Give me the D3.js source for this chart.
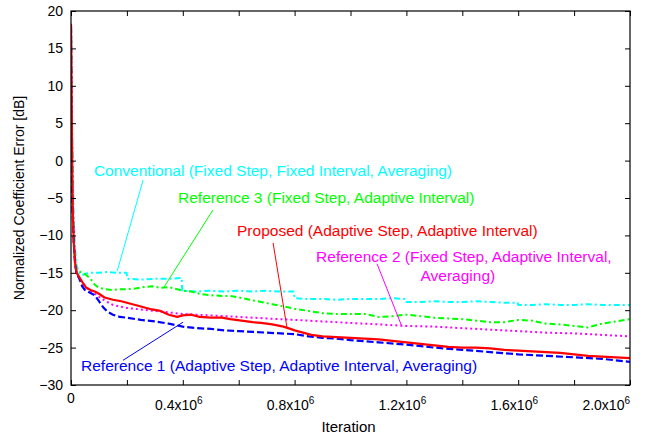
<!DOCTYPE html>
<html>
<head>
<meta charset="utf-8">
<script src="https://cdn.jsdelivr.net/npm/d3@7/dist/d3.min.js"></script>
<style>
  html, body { margin: 0; padding: 0; background: #fff; }
  svg { display: block; font-family: Arial, "Liberation Sans", Helvetica, sans-serif; }
</style>
</head>
<body>
<svg id="chart" width="645" height="442"></svg>
<script>
// ---------------- DATA ----------------
const xTickValues = [0, 200000, 400000, 600000, 800000, 1000000, 1200000, 1400000, 1600000, 1800000, 2000000];
const xLabelValues = [0, 400000, 800000, 1200000, 1600000, 2000000];
const xLabelMantissa = ["0", "0.4x10", "0.8x10", "1.2x10", "1.6x10", "2.0x10"];
const xLabelExponent = ["", "6", "6", "6", "6", "6"];
const yTickValues = [-30, -25, -20, -15, -10, -5, 0, 5, 10, 15, 20];

const seriesNames = [
  "Conventional (Fixed Step, Fixed Interval, Averaging)",
  "Reference 3 (Fixed Step, Adaptive Interval)",
  "Reference 2 (Fixed Step, Adaptive Interval, Averaging)",
  "Reference 1 (Adaptive Step, Adaptive Interval, Averaging)",
  "Proposed (Adaptive Step, Adaptive Interval)"
];

// Conventional (cyan)
const iterConv = [0, 3000, 6000, 10000, 15000, 20000, 30000, 40000, 55000, 70000, 100000, 130000, 160000, 199000,
  201000, 250000, 300000, 350000, 396000, 398000, 450000, 500000, 550000, 600000, 650000, 700000, 750000, 797000,
  800000, 850000, 900000, 950000, 1000000, 1050000, 1100000, 1150000, 1198000, 1200000, 1250000, 1300000, 1350000,
  1400000, 1450000, 1500000, 1550000, 1598000, 1600000, 1650000, 1700000, 1750000, 1800000, 1850000, 1900000, 1950000, 2000000];
const errConv = [18, 8, 0, -8, -12, -14, -15.2, -15.3, -15.1, -15.0, -15.0, -14.9, -15.0, -15.0,
  -15.8, -15.9, -15.8, -15.8, -15.7, -17.4, -17.5, -17.4, -17.5, -17.4, -17.5, -17.4, -17.5, -17.5,
  -18.4, -18.5, -18.5, -18.6, -18.5, -18.5, -18.5, -18.4, -18.5, -18.9, -18.9, -18.8, -18.9,
  -18.9, -18.8, -18.9, -19.0, -19.0, -19.3, -19.3, -19.2, -19.3, -19.3, -19.2, -19.3, -19.3, -19.3];

// Reference 3 (green)
const iterRef3 = [0, 3000, 6000, 10000, 15000, 20000, 30000, 40000, 55000, 70000, 85000, 100000, 120000, 150000, 175000,
  200000, 230000, 260000, 290000, 320000, 350000, 380000, 400000, 430000, 460000, 500000, 540000, 570000, 600000,
  640000, 680000, 720000, 760000, 800000, 850000, 900000, 950000, 1000000, 1050000, 1100000, 1150000, 1200000,
  1250000, 1300000, 1350000, 1400000, 1450000, 1500000, 1550000, 1600000, 1650000, 1700000, 1750000, 1800000,
  1850000, 1900000, 1950000, 2000000];
const errRef3 = [18, 5, -6, -11, -13.8, -14.5, -14.8, -15.0, -15.3, -15.8, -16.6, -17.0, -17.2, -17.3, -17.2,
  -17.2, -17.1, -16.9, -16.8, -17.0, -16.9, -17.2, -17.4, -17.5, -17.8, -18.0, -18.1, -18.1, -18.3,
  -18.6, -18.9, -19.2, -19.5, -19.8, -20.1, -20.4, -20.5, -20.5, -20.5, -20.9, -20.8, -20.6,
  -20.8, -21.0, -21.1, -21.2, -21.4, -21.6, -21.6, -21.3, -21.4, -21.8, -21.9, -22.1,
  -22.3, -21.8, -21.5, -21.2];

// Reference 2 (magenta)
const iterRef2 = [0, 3000, 6000, 10000, 15000, 20000, 30000, 40000, 55000, 70000, 85000, 100000, 120000, 150000,
  200000, 250000, 300000, 350000, 400000, 500000, 600000, 700000, 800000, 900000, 1000000, 1100000, 1200000,
  1300000, 1400000, 1500000, 1600000, 1700000, 1800000, 1900000, 2000000];
const errRef2 = [18, 5, -6, -11, -13.8, -15, -15.8, -16.3, -17.0, -17.4, -17.8, -18.2, -18.7, -19.3,
  -19.7, -19.9, -20.1, -20.3, -20.5, -20.7, -20.9, -21.1, -21.3, -21.5, -21.7, -21.9, -22.1,
  -22.2, -22.4, -22.6, -22.8, -23.0, -23.1, -23.3, -23.5];

// Reference 1 (blue)
const iterRef1 = [0, 2000, 5000, 10000, 15000, 20000, 30000, 40000, 50000, 60000, 70000, 85000, 100000, 115000,
  130000, 150000, 175000, 200000, 250000, 300000, 350000, 400000, 450000, 500000, 550000, 600000, 650000, 700000,
  750000, 800000, 850000, 900000, 950000, 1000000, 1100000, 1200000, 1300000, 1400000, 1500000, 1600000, 1700000,
  1800000, 1900000, 2000000];
const errRef1 = [18, 0, -6, -11, -14, -15, -15.8, -16.8, -17.3, -17.5, -17.7, -18.0, -18.8, -19.6,
  -20.2, -20.6, -20.9, -21.0, -21.3, -21.5, -21.8, -22.2, -22.4, -22.5, -22.7, -22.8, -22.9, -23.0,
  -23.1, -23.2, -23.5, -23.7, -23.8, -24.0, -24.3, -24.6, -25.0, -25.3, -25.6, -25.9, -26.1,
  -26.3, -26.5, -26.9];

// Proposed (red)
const iterProp = [0, 3000, 6000, 10000, 15000, 20000, 30000, 40000, 55000, 70000, 85000, 100000, 120000, 150000,
  180000, 200000, 230000, 260000, 290000, 320000, 350000, 380000, 400000, 430000, 460000, 500000, 540000, 570000,
  610000, 650000, 680000, 720000, 760000, 785000, 800000, 830000, 860000, 900000, 950000, 1000000, 1050000,
  1100000, 1150000, 1200000, 1250000, 1300000, 1350000, 1400000, 1450000, 1500000, 1550000, 1600000, 1650000,
  1700000, 1750000, 1800000, 1850000, 1900000, 1950000, 2000000];
const errProp = [18.3, 5, -6, -11, -13.8, -15, -15.6, -16.2, -17.0, -17.3, -17.5, -17.8, -18.3, -18.6,
  -18.8, -19.0, -19.3, -19.6, -19.9, -20.1, -20.6, -20.9, -20.7, -20.6, -20.9, -21.0, -21.0, -21.2,
  -21.4, -21.6, -21.7, -21.9, -22.2, -22.5, -22.7, -23.0, -23.3, -23.5, -23.6, -23.7, -23.8,
  -23.9, -24.1, -24.3, -24.5, -24.7, -24.9, -25.0, -25.0, -25.1, -25.3, -25.4, -25.5,
  -25.6, -25.7, -25.9, -26.1, -26.2, -26.3, -26.4];

// annotation anchors in data units: [iteration, dB]
const annotTextAt = [[82000, -2.1], [383000, -5.7], [877000, -13.5], [36000, -28.1], [594000, -10.1]];
const annotLineFrom = [[258000, -2.6], [508000, -6.6], [1095000, -13.8], [186000, -26.7], [723000, -11.0]];
const annotLineTo = [[165000, -14.8], [333000, -16.9], [1184000, -22.2], [401000, -21.6], [773000, -22.4]];

// ---------------- CHART ----------------
const W = 645, H = 442;
const plot = { left: 71, right: 630, top: 11, bottom: 385 };
const svg = d3.select("#chart");

const x = d3.scaleLinear().domain([0, 2000000]).range([plot.left, plot.right]);
const y = d3.scaleLinear().domain([-30, 20]).range([plot.bottom, plot.top]);

const styles = [
  { color: "#00ffff", dash: "6,3,2,3", width: 2 },
  { color: "#00ff00", dash: "6,3,2,3", width: 2 },
  { color: "#ff00ff", dash: "2,3", width: 2 },
  { color: "#0000ff", dash: "7,3", width: 2.2 },
  { color: "#ff0000", dash: null, width: 2.2 }
];
const seriesData = [
  [iterConv, errConv], [iterRef3, errRef3], [iterRef2, errRef2], [iterRef1, errRef1], [iterProp, errProp]
].map(([it, er], i) => ({ name: seriesNames[i], pts: it.map((v, j) => [v, er[j]]), style: styles[i] }));

svg.append("defs").append("clipPath").attr("id", "clip")
  .append("rect").attr("x", plot.left).attr("y", plot.top)
  .attr("width", plot.right - plot.left).attr("height", plot.bottom - plot.top);

const line = d3.line().x(d => x(d[0])).y(d => y(d[1]));
const gLines = svg.append("g").attr("clip-path", "url(#clip)");
seriesData.forEach(s => {
  gLines.append("path").datum(s.pts)
    .attr("d", line)
    .attr("fill", "none")
    .attr("stroke", s.style.color)
    .attr("stroke-width", s.style.width)
    .attr("stroke-dasharray", s.style.dash)
    .attr("stroke-linejoin", "round");
});

// axes (ticks pointing inward)
function styleAxis(g) {
  g.select(".domain").remove();
  g.selectAll(".tick line").attr("stroke", "#000").attr("stroke-width", 1);
}
svg.append("g").attr("transform", `translate(0,${plot.bottom})`)
  .call(d3.axisBottom(x).tickValues(xTickValues).tickSizeInner(-5).tickSizeOuter(0).tickFormat(""))
  .call(styleAxis);
svg.append("g").attr("transform", `translate(0,${plot.top})`)
  .call(d3.axisTop(x).tickValues(xTickValues).tickSizeInner(-5).tickSizeOuter(0).tickFormat(""))
  .call(styleAxis);
const yAxisG = svg.append("g").attr("transform", `translate(${plot.left},0)`)
  .call(d3.axisLeft(y).tickValues(yTickValues).tickSizeInner(-5).tickSizeOuter(0).tickPadding(8).tickFormat(d3.format("d")))
  .call(styleAxis);
yAxisG.selectAll(".tick text").attr("font-size", 14).attr("fill", "#000")
  .attr("font-family", "Arial, 'Liberation Sans', sans-serif");
svg.append("g").attr("transform", `translate(${plot.right},0)`)
  .call(d3.axisRight(y).tickValues(yTickValues).tickSizeInner(-5).tickSizeOuter(0).tickFormat(""))
  .call(styleAxis);

// frame
svg.append("rect").attr("x", plot.left).attr("y", plot.top)
  .attr("width", plot.right - plot.left).attr("height", plot.bottom - plot.top)
  .attr("fill", "none").attr("stroke", "#000").attr("stroke-width", 1.2);

// x tick labels with superscripts
xLabelValues.forEach((v, i) => {
  const isZero = xLabelExponent[i] === "";
  const isLast = i === xLabelValues.length - 1;
  const t = svg.append("text")
    .attr("font-size", 14)
    .attr("fill", "#000")
    .attr("y", isZero ? plot.bottom + 18 : plot.bottom + 25)
    .attr("x", isLast ? x(v) : (isZero ? x(v) : x(v) - 4))
    .attr("text-anchor", isLast ? "end" : "middle");
  t.append("tspan").text(xLabelMantissa[i]);
  if (!isZero) t.append("tspan").attr("font-size", 10).attr("dy", -6).text(xLabelExponent[i]);
});

// axis titles
svg.append("text").attr("x", (plot.left + plot.right) / 2 - 2).attr("y", 432)
  .attr("text-anchor", "middle").attr("font-size", 15).attr("fill", "#000").text("Iteration");
svg.append("text").attr("transform", `translate(24,${(plot.top + plot.bottom) / 2}) rotate(-90)`)
  .attr("text-anchor", "middle").attr("font-size", 14).attr("fill", "#000")
  .text("Normalized Coefficient Error [dB]");

// annotations
const gAnn = svg.append("g");
seriesData.forEach((s, i) => {
  gAnn.append("line")
    .attr("x1", x(annotLineFrom[i][0])).attr("y1", y(annotLineFrom[i][1]))
    .attr("x2", x(annotLineTo[i][0])).attr("y2", y(annotLineTo[i][1]))
    .attr("stroke", s.style.color).attr("stroke-width", 1);
});
seriesData.forEach((s, i) => {
  const tx = x(annotTextAt[i][0]), ty = y(annotTextAt[i][1]);
  if (i === 2) {
    // two-line label
    const parts = ["Reference 2 (Fixed Step, Adaptive Interval,", "Averaging)"];
    const t = gAnn.append("text").attr("font-size", 15.5).attr("fill", s.style.color)
      .attr("text-anchor", "middle");
    const first = t.append("tspan").attr("x", tx).attr("y", ty).text(parts[0]);
    const w = first.node().getComputedTextLength();
    first.attr("x", tx + w / 2);
    t.append("tspan").attr("x", tx + w / 2 - 6).attr("y", ty + 19.5).text(parts[1]);
  } else {
    gAnn.append("text").attr("x", tx).attr("y", ty)
      .attr("font-size", 15.5).attr("fill", s.style.color).text(s.name);
  }
});
</script>
</body>
</html>
